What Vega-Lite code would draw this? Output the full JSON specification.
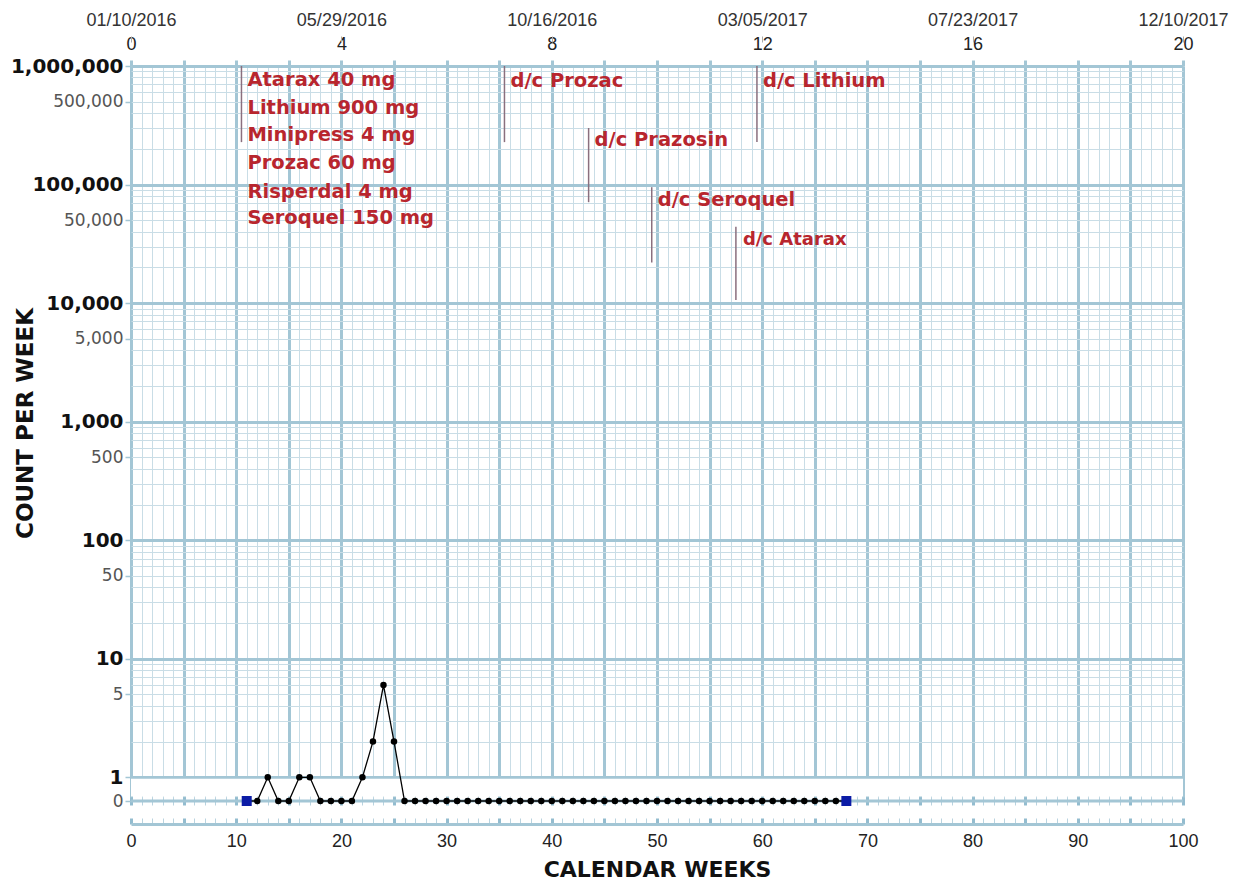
{
  "$schema": "https://vega.github.io/schema/vega-lite/v6.json",
  "width": 1052,
  "height": 735,
  "autosize": {"type": "none"},
  "padding": {"left": 131, "top": 66, "right": 60, "bottom": 87},
  "background": "white",
  "config": {
    "view": {"stroke": null},
    "axis": {"labelFlush": false, "labelOverlap": false, "domain": false, "grid": false}
  },
  "datasets": {
    "counts": [
      {"week": 11, "count": 0, "marker": "square"},
      {"week": 12, "count": 0, "marker": "dot"},
      {"week": 13, "count": 1, "marker": "dot"},
      {"week": 14, "count": 0, "marker": "dot"},
      {"week": 15, "count": 0, "marker": "dot"},
      {"week": 16, "count": 1, "marker": "dot"},
      {"week": 17, "count": 1, "marker": "dot"},
      {"week": 18, "count": 0, "marker": "dot"},
      {"week": 19, "count": 0, "marker": "dot"},
      {"week": 20, "count": 0, "marker": "dot"},
      {"week": 21, "count": 0, "marker": "dot"},
      {"week": 22, "count": 1, "marker": "dot"},
      {"week": 23, "count": 2, "marker": "dot"},
      {"week": 24, "count": 6, "marker": "dot"},
      {"week": 25, "count": 2, "marker": "dot"},
      {"week": 26, "count": 0, "marker": "dot"},
      {"week": 27, "count": 0, "marker": "dot"},
      {"week": 28, "count": 0, "marker": "dot"},
      {"week": 29, "count": 0, "marker": "dot"},
      {"week": 30, "count": 0, "marker": "dot"},
      {"week": 31, "count": 0, "marker": "dot"},
      {"week": 32, "count": 0, "marker": "dot"},
      {"week": 33, "count": 0, "marker": "dot"},
      {"week": 34, "count": 0, "marker": "dot"},
      {"week": 35, "count": 0, "marker": "dot"},
      {"week": 36, "count": 0, "marker": "dot"},
      {"week": 37, "count": 0, "marker": "dot"},
      {"week": 38, "count": 0, "marker": "dot"},
      {"week": 39, "count": 0, "marker": "dot"},
      {"week": 40, "count": 0, "marker": "dot"},
      {"week": 41, "count": 0, "marker": "dot"},
      {"week": 42, "count": 0, "marker": "dot"},
      {"week": 43, "count": 0, "marker": "dot"},
      {"week": 44, "count": 0, "marker": "dot"},
      {"week": 45, "count": 0, "marker": "dot"},
      {"week": 46, "count": 0, "marker": "dot"},
      {"week": 47, "count": 0, "marker": "dot"},
      {"week": 48, "count": 0, "marker": "dot"},
      {"week": 49, "count": 0, "marker": "dot"},
      {"week": 50, "count": 0, "marker": "dot"},
      {"week": 51, "count": 0, "marker": "dot"},
      {"week": 52, "count": 0, "marker": "dot"},
      {"week": 53, "count": 0, "marker": "dot"},
      {"week": 54, "count": 0, "marker": "dot"},
      {"week": 55, "count": 0, "marker": "dot"},
      {"week": 56, "count": 0, "marker": "dot"},
      {"week": 57, "count": 0, "marker": "dot"},
      {"week": 58, "count": 0, "marker": "dot"},
      {"week": 59, "count": 0, "marker": "dot"},
      {"week": 60, "count": 0, "marker": "dot"},
      {"week": 61, "count": 0, "marker": "dot"},
      {"week": 62, "count": 0, "marker": "dot"},
      {"week": 63, "count": 0, "marker": "dot"},
      {"week": 64, "count": 0, "marker": "dot"},
      {"week": 65, "count": 0, "marker": "dot"},
      {"week": 66, "count": 0, "marker": "dot"},
      {"week": 67, "count": 0, "marker": "dot"},
      {"week": 68, "count": 0, "marker": "square"}
    ],
    "phases": [
      {"week": 10.5, "top": 1000000, "bottom": 228000},
      {"week": 35.5, "top": 1000000, "bottom": 228000},
      {"week": 43.5, "top": 300000, "bottom": 71000},
      {"week": 49.5, "top": 95000, "bottom": 22000},
      {"week": 57.5, "top": 44000, "bottom": 10600},
      {"week": 59.5, "top": 1000000, "bottom": 228000}
    ],
    "notes": [
      {"week": 10.5, "value": 762000, "label": "Atarax 40 mg"},
      {"week": 10.5, "value": 442000, "label": "Lithium 900 mg"},
      {"week": 10.5, "value": 262000, "label": "Minipress 4 mg"},
      {"week": 10.5, "value": 152000, "label": "Prozac 60 mg"},
      {"week": 10.5, "value": 86500, "label": "Risperdal 4 mg"},
      {"week": 10.5, "value": 52000, "label": "Seroquel 150 mg"},
      {"week": 35.5, "value": 752000, "label": "d/c Prozac"},
      {"week": 43.5, "value": 237000, "label": "d/c Prazosin"},
      {"week": 49.5, "value": 74000, "label": "d/c Seroquel"},
      {"week": 57.5, "value": 34000, "label": "d/c Atarax"},
      {"week": 59.5, "value": 752000, "label": "d/c Lithium"}
    ]
  },
  "resolve": {"axis": {"x": "independent", "y": "independent"}},
  "layer": [
    {
      "data": {"values": [{}]},
      "mark": {"type": "rect", "color": "white"},
      "encoding": {
        "x": {
          "datum": 0, "type": "quantitative",
          "scale": {"domain": [0, 100], "nice": false, "zero": false},
          "axis": {
            "orient": "bottom", "offset": -4, "tickCount": 100, "tickSize": 8,
            "tickColor": {"condition": {"test": "datum.value % 5 === 0", "value": "#93bccf"}, "value": "#b9d3df"},
            "tickWidth": {"condition": {"test": "datum.value % 5 === 0", "value": 3}, "value": 1},
            "labels": false, "domain": false, "grid": false, "title": null, "zindex": 0
          }
        },
        "x2": {"datum": 100},
        "y": {
          "datum": 0.97, "type": "quantitative",
          "scale": {"type": "log", "domain": [0.630957, 1000000], "nice": false, "clamp": true},
          "axis": null
        },
        "y2": {"datum": 0.69}
      }
    },
    {
      "data": {"values": [{}]},
      "mark": {"type": "rule", "color": "#a3c6d5", "strokeWidth": 3},
      "encoding": {
        "x": {"datum": 0, "type": "quantitative", "scale": {"domain": [0, 100], "nice": false, "zero": false}, "axis": null},
        "x2": {"datum": 100},
        "y": {"datum": 0.630957, "type": "quantitative", "scale": {"type": "log", "domain": [0.630957, 1000000], "nice": false, "clamp": true}, "axis": null}
      }
    },
    {
      "data": {"name": "phases"},
      "mark": {"type": "rule", "color": "#8a6f7e", "strokeWidth": 1.5},
      "encoding": {
        "x": {
          "field": "week", "type": "quantitative",
          "scale": {"domain": [0, 100], "nice": false, "zero": false},
          "axis": {
            "orient": "top",
            "values": [0, 5, 10, 15, 20, 25, 30, 35, 40, 45, 50, 55, 60, 65, 70, 75, 80, 85, 90, 95, 100],
            "labelExpr": "datum.value % 20 === 0 ? format(datum.value / 5, 'd') : ''",
            "tickSize": 6, "tickColor": "#a3c6d5", "tickWidth": 3,
            "labelPadding": 7, "labelFont": "Liberation Sans", "labelFontSize": 18, "labelColor": "#222",
            "title": null, "domain": false, "grid": false
          }
        },
        "y": {"field": "top", "type": "quantitative", "scale": {"type": "log", "domain": [0.630957, 1000000], "nice": false, "clamp": true}, "axis": null},
        "y2": {"field": "bottom"}
      }
    },
    {
      "data": {"name": "notes"},
      "transform": [{"filter": "datum.label !== 'd/c Atarax'"}],
      "mark": {"type": "text", "align": "left", "baseline": "middle", "dx": 6, "font": "DejaVu Sans", "fontWeight": "bold", "fontSize": 19.5, "color": "#b8262e"},
      "encoding": {
        "x": {
          "field": "week", "type": "quantitative",
          "scale": {"domain": [0, 100], "nice": false, "zero": false},
          "axis": {
            "orient": "top", "offset": 24,
            "values": [0, 20, 40, 60, 80, 100],
            "labelExpr": "['01/10/2016','05/29/2016','10/16/2016','03/05/2017','07/23/2017','12/10/2017'][round(datum.value / 20)]",
            "tickSize": 6, "tickColor": "#aaaaaa", "tickWidth": 1,
            "labelPadding": 7, "labelFont": "Liberation Sans", "labelFontSize": 18, "labelColor": "#333",
            "title": null, "domain": false, "grid": false
          }
        },
        "y": {"field": "value", "type": "quantitative", "scale": {"type": "log", "domain": [0.630957, 1000000], "nice": false, "clamp": true}, "axis": null},
        "text": {"field": "label"}
      }
    },
    {
      "data": {"name": "notes"},
      "transform": [{"filter": "datum.label === 'd/c Atarax'"}],
      "mark": {"type": "text", "align": "left", "baseline": "middle", "dx": 7, "font": "DejaVu Sans", "fontWeight": "bold", "fontSize": 18, "color": "#b8262e"},
      "encoding": {
        "x": {"field": "week", "type": "quantitative", "scale": {"domain": [0, 100], "nice": false, "zero": false}, "axis": null},
        "y": {"field": "value", "type": "quantitative", "scale": {"type": "log", "domain": [0.630957, 1000000], "nice": false, "clamp": true}, "axis": null},
        "text": {"field": "label"}
      }
    },
    {
      "data": {"name": "counts"},
      "mark": {"type": "line", "color": "black", "strokeWidth": 1.3},
      "encoding": {
        "x": {
          "field": "week", "type": "quantitative", "title": "CALENDAR WEEKS",
          "scale": {"domain": [0, 100], "nice": false, "zero": false},
          "axis": {
            "orient": "bottom", "offset": 23, "tickCount": 100,
            "grid": true,
            "gridColor": {"condition": {"test": "datum.value % 5 === 0", "value": "#a3c6d5"}, "value": "#c9dde6"},
            "gridWidth": {"condition": {"test": "datum.value % 5 === 0", "value": 3}, "value": 1},
            "domain": true, "domainColor": "#a3c6d5", "domainWidth": 3,
            "ticks": true, "tickSize": -6,
            "tickColor": {"condition": {"test": "datum.value % 5 === 0", "value": "#93bccf"}, "value": "#b9d3df"},
            "tickWidth": {"condition": {"test": "datum.value % 5 === 0", "value": 3}, "value": 1},
            "labelExpr": "datum.value % 10 === 0 ? datum.label : ''",
            "labelPadding": 14, "labelFont": "Liberation Sans", "labelFontSize": 18, "labelColor": "#222",
            "titleFont": "DejaVu Sans", "titleFontSize": 22, "titleFontWeight": "bold", "titleColor": "#111",
            "titleY": 45, "titleBaseline": "middle"
          }
        },
        "y": {
          "field": "count", "type": "quantitative", "title": "COUNT PER WEEK",
          "scale": {"type": "log", "domain": [0.630957, 1000000], "nice": false, "clamp": true},
          "axis": {
            "orient": "left",
            "values": [0.630957, 1, 2, 3, 4, 5, 6, 7, 8, 9, 10, 20, 30, 40, 50, 60, 70, 80, 90, 100, 200, 300, 400, 500, 600, 700, 800, 900, 1000, 2000, 3000, 4000, 5000, 6000, 7000, 8000, 9000, 10000, 20000, 30000, 40000, 50000, 60000, 70000, 80000, 90000, 100000, 200000, 300000, 400000, 500000, 600000, 700000, 800000, 900000, 1000000],
            "labelExpr": "datum.value < 0.9 ? '0' : (indexof([1,5,10,50,100,500,1000,5000,10000,50000,100000,500000,1000000], datum.value) >= 0 ? format(datum.value, ',') : '')",
            "grid": true,
            "gridColor": {"condition": {"test": "indexof([1,10,100,1000,10000,100000,1000000], datum.value) >= 0", "value": "#a3c6d5"}, "value": "#c9dde6"},
            "gridWidth": {"condition": {"test": "indexof([1,10,100,1000,10000,100000,1000000], datum.value) >= 0", "value": 3}, "value": 1},
            "gridOpacity": {"condition": {"test": "datum.value < 0.9", "value": 0}, "value": 1},
            "domain": false,
            "tickSize": 6, "tickColor": "#a3c6d5", "tickWidth": 1.5,
            "tickOpacity": {"condition": {"test": "datum.value < 0.9 || indexof([1,5,10,50,100,500,1000,5000,10000,50000,100000,500000,1000000], datum.value) >= 0", "value": 1}, "value": 0},
            "labelPadding": 2,
            "labelFont": "DejaVu Sans",
            "labelFontSize": {"condition": {"test": "indexof([1,10,100,1000,10000,100000,1000000], datum.value) >= 0", "value": 20}, "value": 17},
            "labelFontWeight": {"condition": {"test": "indexof([1,10,100,1000,10000,100000,1000000], datum.value) >= 0", "value": "bold"}, "value": "normal"},
            "labelColor": {"condition": {"test": "indexof([1,10,100,1000,10000,100000,1000000], datum.value) >= 0", "value": "#111"}, "value": "#555"},
            "titleFont": "DejaVu Sans", "titleFontSize": 23, "titleFontWeight": "bold", "titleColor": "#111",
            "titleX": -106, "titleY": 357, "titleAlign": "center", "titleBaseline": "middle", "titleAngle": -90
          }
        }
      }
    },
    {
      "data": {"name": "counts"},
      "transform": [{"filter": "datum.marker === 'dot'"}],
      "mark": {"type": "point", "filled": true, "shape": "circle", "size": 42, "color": "black", "opacity": 1},
      "encoding": {
        "x": {"field": "week", "type": "quantitative", "scale": {"domain": [0, 100], "nice": false, "zero": false}, "axis": null},
        "y": {"field": "count", "type": "quantitative", "scale": {"type": "log", "domain": [0.630957, 1000000], "nice": false, "clamp": true}, "axis": null}
      }
    },
    {
      "data": {"name": "counts"},
      "transform": [{"filter": "datum.marker === 'square'"}],
      "mark": {"type": "point", "filled": true, "shape": "square", "size": 100, "color": "#0c1ca6", "opacity": 1},
      "encoding": {
        "x": {"field": "week", "type": "quantitative", "scale": {"domain": [0, 100], "nice": false, "zero": false}, "axis": null},
        "y": {"field": "count", "type": "quantitative", "scale": {"type": "log", "domain": [0.630957, 1000000], "nice": false, "clamp": true}, "axis": null}
      }
    }
  ]
}
